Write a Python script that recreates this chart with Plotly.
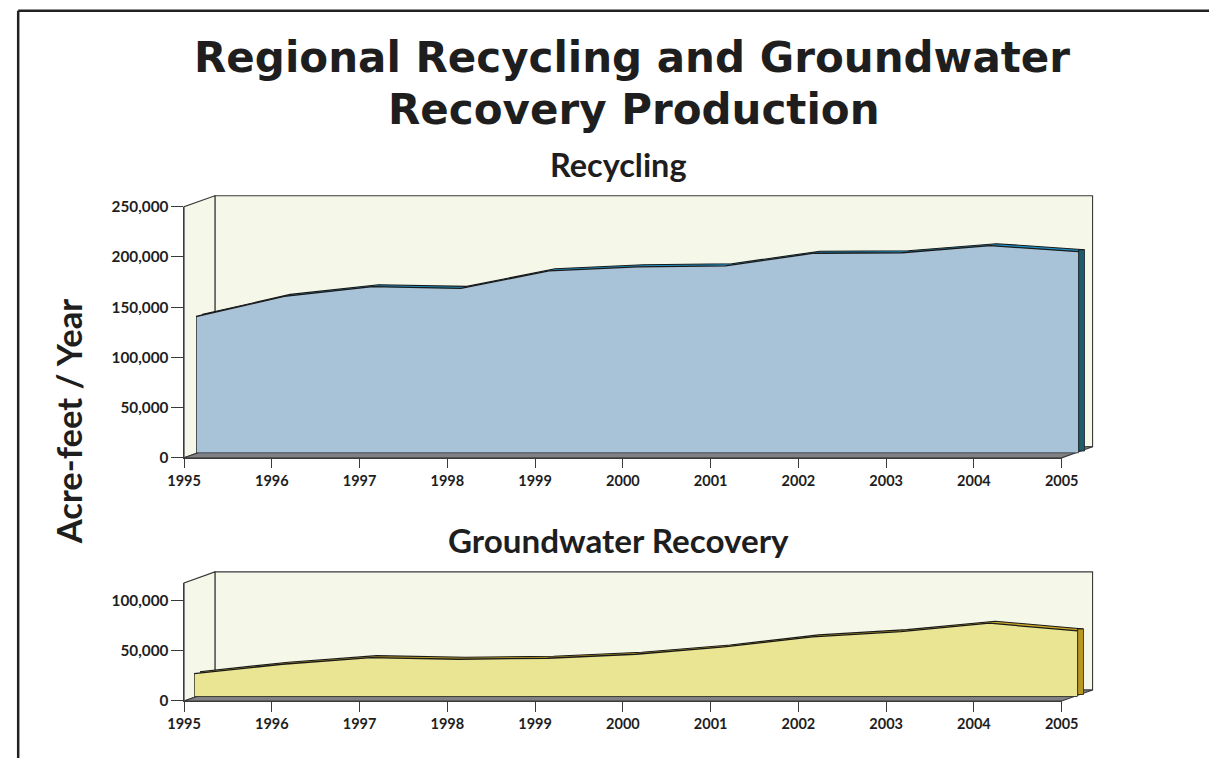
import plotly.graph_objects as go

# ---------------- data ----------------
years = ["1995", "1996", "1997", "1998", "1999", "2000", "2001", "2002", "2003", "2004", "2005"]
recycling = [136000, 156000, 165700, 164000, 181500, 185500, 186500, 199000, 199500, 206500, 200500]
groundwater = [23000, 32400, 39000, 37400, 38400, 42400, 49700, 59700, 65000, 73400, 65700]
recycling_ticks = [0, 50000, 100000, 150000, 200000, 250000]
groundwater_ticks = [0, 50000, 100000]

# ---------------- geometry ----------------
W, H = 1226, 766
# the photographed page shows the figure slightly scaled / offset; compensate
S, OX, OY = 0.976, 14.3, 9.4
FONT = "Lato"
HEAVY = "DejaVu Sans"


def clamp(v):
    return min(max(v, 0.001), 0.999)


def fx(p):
    return ((p - OX) / S) / W


def fy(p):
    return 1 - ((p - OY) / S) / H


panels = [
    dict(values=recycling, ticks=recycling_ticks, ymax=250000,
         ax_l=182, ax_r=1063, ax_b=457, ax_t=206,
         f_l=194, f_r=1080, f_b=452.3,
         front="#a8c2d7", strip="#1e93c6", side="#1b5c6d"),
    dict(values=groundwater, ticks=groundwater_ticks, ymax=118000,
         ax_l=182, ax_r=1063, ax_b=700, ax_t=582,
         f_l=192, f_r=1079, f_b=695.7,
         front="#e9e592", strip="#c9a825", side="#b8981e"),
]
DEPTH_X, DEPTH_Y = 31, 11       # wall depth offset
RIB_X, RIB_Y = 6, 2             # ribbon depth of the area
WALL = "#f5f7e9"
EDGE = "#3a3a3a"
FLOOR = "#7f8185"
INK = "#1e1e1e"

fig = go.Figure()
layout_axes = {}
shapes = []
n = len(years)
xs_idx = list(range(n))
axis_id = 1


def xname(i):
    return "xaxis" if i == 1 else f"xaxis{i}"


def yname(i):
    return "yaxis" if i == 1 else f"yaxis{i}"


def xref(i):
    return "x" if i == 1 else f"x{i}"


def yref(i):
    return "y" if i == 1 else f"y{i}"


def pt(x, y):
    return f"{fx(x)},{fy(y)}"


for p in panels:
    vals = p["values"]
    ymax = p["ymax"]
    ppx = p["ax_b"] - p["ax_t"]
    vx, vy = axis_id, axis_id + 1          # visible axes
    bx, by = axis_id + 2, axis_id + 3      # ribbon (back) axes
    frx, fry = axis_id + 4, axis_id + 5    # front face axes
    axis_id += 6

    layout_axes[xname(vx)] = dict(
        domain=[fx(p["ax_l"]), fx(p["ax_r"])], range=[0, n - 1], anchor=yref(vy),
        tickmode="array", tickvals=xs_idx, ticktext=years, ticks="outside",
        ticklen=9.5, tickwidth=1.2, tickcolor=EDGE, showline=True, linecolor=EDGE,
        linewidth=1.2, showgrid=False, zeroline=False, fixedrange=True,
        tickfont=dict(family=FONT, size=14.5, color=INK, weight="bold"))
    layout_axes[yname(vy)] = dict(
        domain=[fy(p["ax_b"]), fy(p["ax_t"])], range=[0, ymax], anchor=xref(vx),
        tickmode="array", tickvals=p["ticks"], tickformat=",", ticks="outside",
        ticklen=11.5, tickwidth=1.2, tickcolor=EDGE, showline=True, linecolor=EDGE,
        linewidth=1.2, showgrid=False, zeroline=False, fixedrange=True,
        tickfont=dict(family=FONT, size=15.3, color=INK, weight="bold"))
    fig.add_trace(go.Scatter(x=[0], y=[0], mode="markers", marker=dict(opacity=0),
                             xaxis=xref(vx), yaxis=yref(vy), showlegend=False,
                             hoverinfo="skip"))

    for (ax_x, ax_y, dx, dy) in [(bx, by, RIB_X, RIB_Y), (frx, fry, 0, 0)]:
        layout_axes[xname(ax_x)] = dict(
            domain=[fx(p["f_l"] + dx), fx(p["f_r"] + dx)], range=[0, n - 1],
            anchor=yref(ax_y), visible=False, fixedrange=True)
        layout_axes[yname(ax_y)] = dict(
            domain=[fy(p["f_b"] - dy), fy(p["f_b"] - dy - ppx)], range=[0, ymax],
            anchor=xref(ax_x), visible=False, fixedrange=True)

    poly_x = [0] + xs_idx + [n - 1, 0]
    poly_y = [0] + vals + [0, 0]
    # ribbon (back copy of the area)
    fig.add_trace(go.Scatter(x=poly_x, y=poly_y, fill="toself", fillcolor=p["strip"],
                             mode="lines", line=dict(color="#1a1a1a", width=1.1),
                             xaxis=xref(bx), yaxis=yref(by), showlegend=False,
                             hoverinfo="skip"))
    # right side face
    step_px = (p["f_r"] - p["f_l"]) / (n - 1)
    xs_side = (n - 1) - RIB_X / step_px
    fig.add_trace(go.Scatter(x=[xs_side, n - 1, n - 1, xs_side, xs_side],
                             y=[vals[-1], vals[-1], 0, 0, vals[-1]],
                             fill="toself", fillcolor=p["side"], mode="lines",
                             line=dict(color="#1a1a1a", width=1),
                             xaxis=xref(bx), yaxis=yref(by), showlegend=False,
                             hoverinfo="skip"))
    # front face
    fig.add_trace(go.Scatter(x=poly_x, y=poly_y, fill="toself", fillcolor=p["front"],
                             mode="lines", line=dict(color="#1a1a1a", width=1.3),
                             xaxis=xref(frx), yaxis=yref(fry), showlegend=False,
                             hoverinfo="skip"))

    L, R, B, T = p["ax_l"], p["ax_r"], p["ax_b"], p["ax_t"]
    shapes.append(dict(type="rect", xref="paper", yref="paper", layer="below",
                       x0=fx(L + DEPTH_X), x1=fx(R + DEPTH_X), y0=fy(B - DEPTH_Y), y1=fy(T - DEPTH_Y),
                       fillcolor=WALL, line=dict(color=EDGE, width=1.1)))
    shapes.append(dict(type="path", xref="paper", yref="paper", layer="below",
                       path=f"M{pt(L, B)} L{pt(L + DEPTH_X, B - DEPTH_Y)} L{pt(L + DEPTH_X, T - DEPTH_Y)} L{pt(L, T)} Z",
                       fillcolor=WALL, line=dict(color=EDGE, width=1.1)))
    shapes.append(dict(type="path", xref="paper", yref="paper", layer="below",
                       path=f"M{pt(L, B)} L{pt(R, B)} L{pt(R + DEPTH_X, B - DEPTH_Y)} L{pt(L + DEPTH_X, B - DEPTH_Y)} Z",
                       fillcolor=FLOOR, line=dict(color=EDGE, width=1.1)))

# frame lines (left and top)
fl, ft = clamp(fx(9)), clamp(fy(6))
shapes.append(dict(type="line", xref="paper", yref="paper", x0=fl, x1=fl, y0=0, y1=ft,
                   line=dict(color="#222222", width=2.5)))
shapes.append(dict(type="line", xref="paper", yref="paper", x0=fl, x1=1, y0=ft, y1=ft,
                   line=dict(color="#222222", width=2.5)))

annotations = [
    dict(text="Regional Recycling and Groundwater", x=fx(632), y=fy(57),
         font=dict(family=HEAVY, size=42, color=INK, weight="bold")),
    dict(text="Recovery Production", x=fx(634), y=fy(109),
         font=dict(family=HEAVY, size=42, color=INK, weight="bold")),
    dict(text="Recycling", x=fx(618), y=fy(164),
         font=dict(family=FONT, size=32.4, color=INK, weight="bold")),
    dict(text="Groundwater Recovery", x=fx(618), y=fy(539),
         font=dict(family=FONT, size=33.2, color=INK, weight="bold")),
    dict(text="Acre-feet / Year", x=fx(66), y=fy(421), textangle=-90,
         font=dict(family=FONT, size=34.6, color=INK, weight="bold")),
]
for a in annotations:
    a.update(xref="paper", yref="paper", xanchor="center", yanchor="middle", showarrow=False)

fig.update_layout(
    width=W, height=H, autosize=False,
    margin=dict(l=0, r=0, t=0, b=0),
    paper_bgcolor="white", plot_bgcolor="rgba(0,0,0,0)",
    showlegend=False, shapes=shapes, annotations=annotations,
    **layout_axes,
)

fig.write_html(
    "out.html",
    config=dict(displayModeBar=False),
    post_script="document.body.style.margin='0px';document.body.style.padding='0px';"
                "document.documentElement.style.overflow='hidden';",
)
